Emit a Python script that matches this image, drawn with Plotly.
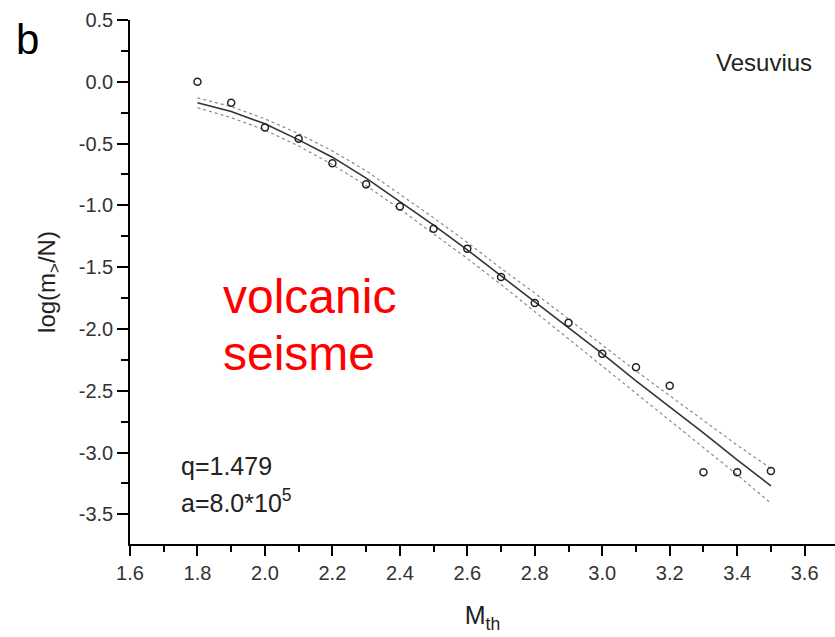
import plotly.graph_objects as go

# ---- data ----
m_th = [1.8, 1.9, 2.0, 2.1, 2.2, 2.3, 2.4, 2.5, 2.6, 2.7, 2.8, 2.9, 3.0, 3.1, 3.2, 3.3, 3.4, 3.5]
log_obs = [0.00, -0.17, -0.37, -0.46, -0.66, -0.83, -1.01, -1.19, -1.35, -1.58, -1.79, -1.95,
           -2.20, -2.31, -2.46, -3.16, -3.16, -3.15]

fit_x = [1.8, 1.9, 2.0, 2.1, 2.2, 2.3, 2.4, 2.5, 2.6, 2.7, 2.8, 2.9, 3.0, 3.1, 3.2, 3.3, 3.4, 3.5]
fit_y = [-0.17, -0.24, -0.34, -0.47, -0.61, -0.78, -0.97, -1.16, -1.36, -1.57, -1.78, -1.99,
         -2.20, -2.42, -2.63, -2.84, -3.06, -3.27]
upper_y = [-0.13, -0.20, -0.30, -0.42, -0.56, -0.72, -0.91, -1.10, -1.30, -1.51, -1.71, -1.92,
           -2.13, -2.34, -2.54, -2.74, -2.94, -3.13]
lower_y = [-0.21, -0.29, -0.39, -0.52, -0.67, -0.84, -1.03, -1.23, -1.43, -1.64, -1.86, -2.08,
           -2.30, -2.52, -2.74, -2.96, -3.18, -3.41]

x_tickvals = [1.6, 1.8, 2.0, 2.2, 2.4, 2.6, 2.8, 3.0, 3.2, 3.4, 3.6]
x_ticktext = ["1.6", "1.8", "2.0", "2.2", "2.4", "2.6", "2.8", "3.0", "3.2", "3.4", "3.6"]
y_tickvals = [0.5, 0.0, -0.5, -1.0, -1.5, -2.0, -2.5, -3.0, -3.5]
y_ticktext = ["0.5", "0.0", "-0.5", "-1.0", "-1.5", "-2.0", "-2.5", "-3.0", "-3.5"]

FONT = "Liberation Sans, Arial, Helvetica, sans-serif"

fig = go.Figure()
fig.add_trace(go.Scatter(x=fit_x, y=upper_y, mode="lines", line=dict(color="#8a8a8a", width=1.2, dash="dot"), showlegend=False))
fig.add_trace(go.Scatter(x=fit_x, y=lower_y, mode="lines", line=dict(color="#8a8a8a", width=1.2, dash="dot"), showlegend=False))
fig.add_trace(go.Scatter(x=fit_x, y=fit_y, mode="lines", line=dict(color="#333333", width=1.6), showlegend=False))
fig.add_trace(go.Scatter(x=m_th, y=log_obs, mode="markers",
                         marker=dict(symbol="circle-open", size=7, color="#222222", line=dict(width=1.5)),
                         showlegend=False))

fig.update_layout(
    width=835, height=637,
    margin=dict(l=130, r=0, t=20, b=93),
    paper_bgcolor="white", plot_bgcolor="white",
    font=dict(family=FONT, color="#333333"),
    xaxis=dict(range=[1.6, 3.69], showgrid=False, zeroline=False, showline=True, linecolor="black", linewidth=1.5,
               ticks="outside", ticklen=10, tickwidth=1.5, tickcolor="black",
               tickvals=x_tickvals, ticktext=x_ticktext, tickfont=dict(size=20, color="#333333"),
               minor=dict(ticks="outside", ticklen=6, tickwidth=1.5, tickcolor="black", dtick=0.1, tick0=1.6, showgrid=False),
               title=dict(text="M<sub>th</sub>", font=dict(size=25, color="#222222"), standoff=24)),
    yaxis=dict(range=[-3.74, 0.5], showgrid=False, zeroline=False, showline=True, linecolor="black", linewidth=1.5,
               ticks="outside", ticklen=11, tickwidth=1.5, tickcolor="black",
               tickvals=y_tickvals, ticktext=y_ticktext, tickfont=dict(size=20, color="#333333"),
               minor=dict(ticks="outside", ticklen=7, tickwidth=1.5, tickcolor="black", dtick=0.25, tick0=0.5, showgrid=False),
               title=dict(text="log(m<sub>&gt;</sub>/N)", font=dict(size=24, color="#222222"), standoff=16)),
    annotations=[
        dict(text="b", xref="paper", yref="paper", x=-0.145, y=0.962, xanchor="center", yanchor="middle",
             showarrow=False, font=dict(size=42, color="black")),
        dict(text="Vesuvius", xref="paper", yref="y", x=0.97, y=0.16, xanchor="right", yanchor="middle",
             showarrow=False, font=dict(size=24, color="#222222")),
        dict(text="volcanic", xref="x", yref="y", x=1.87, y=-1.74, xanchor="left", yanchor="middle",
             showarrow=False, font=dict(size=48, color="red")),
        dict(text="seisme", xref="x", yref="y", x=1.87, y=-2.20, xanchor="left", yanchor="middle",
             showarrow=False, font=dict(size=48, color="red")),
        dict(text="q=1.479", xref="x", yref="y", x=1.745, y=-3.11, xanchor="left", yanchor="middle",
             showarrow=False, font=dict(size=25, color="#222222")),
        dict(text="a=8.0*10<sup>5</sup>", xref="x", yref="y", x=1.745, y=-3.39, xanchor="left", yanchor="middle",
             showarrow=False, font=dict(size=25, color="#222222")),
    ],
)

fig.write_html("out.html")
